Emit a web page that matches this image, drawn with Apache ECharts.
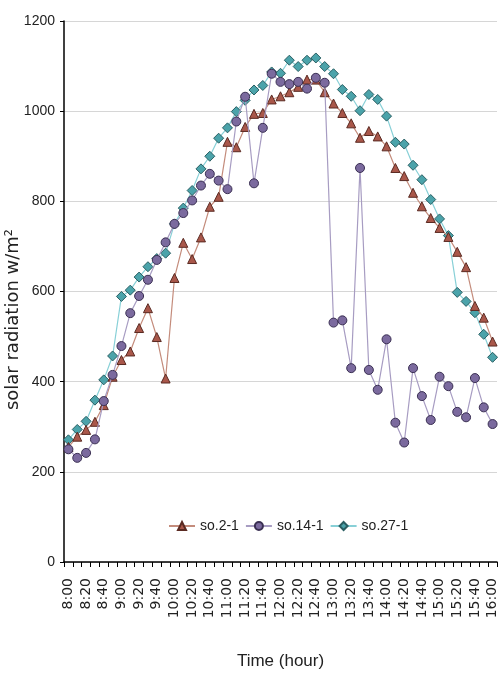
<!DOCTYPE html>
<html lang="en">
<head>
    <meta charset="UTF-8">
    <title>solar radiation</title>
    <script type="text/javascript" src="https://cdn.jsdelivr.net/npm/echarts@6/dist/echarts.min.js"></script>
    <style>
        html, body { margin: 0; padding: 0; background: #fff; }
        #chart { width: 498px; height: 688px; }
    </style>
</head>
<body>
<div id="chart"></div>

<script type="text/javascript">
    // time of day, every 10 minutes from 8:00 to 16:00
    var times = [];
    for (var h = 8; h <= 16; h++) {
        for (var m = 0; m < 60; m += 10) {
            if (h === 16 && m > 0) break;
            times.push(h + ':' + (m === 0 ? '00' : m));
        }
    }

    // solar radiation w/m2
    var so2 = [255, 278, 293, 311, 348, 411, 448, 467, 519, 563,
               499, 407, 630, 708, 672, 720, 788, 810, 932, 920,
               965, 994, 996, 1026, 1033, 1042, 1054, 1070, 1070, 1042,
               1017, 996, 973, 941, 956, 944, 922, 874, 856, 819,
               789, 763, 741, 721, 688, 654, 568, 542, 489];
    var so14 = [250, 231, 242, 272, 357, 415, 479, 552, 590, 626,
                670, 709, 750, 774, 802, 835, 861, 846, 827, 977,
                1032, 840, 963, 1083, 1065, 1060, 1065, 1050, 1074, 1063,
                531, 536, 430, 874, 426, 382, 494, 309, 265, 430,
                368, 315, 411, 390, 333, 321, 408, 343, 306];
    var so27 = [271, 294, 312, 359, 404, 457, 589, 603, 632, 655,
                673, 685, 750, 785, 824, 872, 900, 940, 963, 999,
                1024, 1047, 1057, 1087, 1084, 1113, 1099, 1113, 1118, 1099,
                1083, 1048, 1033, 1001, 1037, 1026, 989, 931, 927, 880,
                848, 804, 761, 724, 598, 578, 553, 505, 454];

    var textFont = '"Liberation Sans", sans-serif';

    var myChart = echarts.init(document.getElementById('chart'));
    myChart.setOption({
        animation: false,
        grid: {
            left: 64,
            right: 1,
            top: 21,
            bottom: 126,
            outerBoundsMode: 'none'
        },
        legend: {
            top: 514,
            left: 163,
            itemWidth: 26,
            itemHeight: 10,
            itemGap: 6,
            textStyle: { fontFamily: textFont, fontSize: 14, color: '#222' },
            data: ['so.2-1', 'so.14-1', 'so.27-1']
        },
        xAxis: [{
            type: 'category',
            boundaryGap: true,
            data: times,
            name: 'Time (hour)',
            nameLocation: 'middle',
            nameGap: 91,
            nameMoveOverlap: false,
            nameTextStyle: { fontFamily: textFont, fontSize: 17, color: '#222' },
            axisLine: { lineStyle: { color: '#000', width: 1.5 } },
            axisTick: { show: true, interval: 0, length: 5, lineStyle: { color: '#000' } },
            axisLabel: {
                interval: 1,
                rotate: 90,
                margin: 16,
                fontFamily: 'DejaVu Sans',
                fontSize: 14,
                color: '#222'
            }
        }],
        yAxis: [{
            type: 'value',
            min: 0,
            max: 1200,
            interval: 200,
            name: 'solar radiation w/m²',
            nameLocation: 'middle',
            nameGap: 42,
            nameMoveOverlap: false,
            nameTextStyle: { fontFamily: 'DejaVu Sans', fontSize: 18, color: '#222', padding: [0, 56, 0, 0] },
            axisLine: { show: true, lineStyle: { color: '#000', width: 1.5 } },
            axisTick: { show: true, length: 4, lineStyle: { color: '#000' } },
            axisLabel: {
                margin: 9,
                fontFamily: textFont,
                fontSize: 14,
                color: '#222',
                formatter: function (v) { return String(v); }
            },
            splitLine: { lineStyle: { color: '#d6d6d6', width: 1.2 } }
        }],
        series: [
            {
                name: 'so.2-1',
                type: 'line',
                data: so2,
                symbol: 'triangle',
                symbolSize: 9,
                showAllSymbol: true,
                lineStyle: { color: '#c48c7c', width: 1.2 },
                itemStyle: { color: '#a9574a', borderColor: '#5a2a22', borderWidth: 1 },
                z: 2
            },
            {
                name: 'so.14-1',
                type: 'line',
                data: so14,
                symbol: 'circle',
                symbolSize: 9,
                showAllSymbol: true,
                lineStyle: { color: '#a79cc2', width: 1.2 },
                itemStyle: { color: '#7b6a9e', borderColor: '#3a2f52', borderWidth: 1 },
                z: 3
            },
            {
                name: 'so.27-1',
                type: 'line',
                data: so27,
                symbol: 'diamond',
                symbolSize: 10,
                showAllSymbol: true,
                lineStyle: { color: '#88d0d7', width: 1.2 },
                itemStyle: { color: '#4ba3aa', borderColor: '#2a5e62', borderWidth: 1 },
                z: 1
            }
        ]
    });
</script>

</body>
</html>
